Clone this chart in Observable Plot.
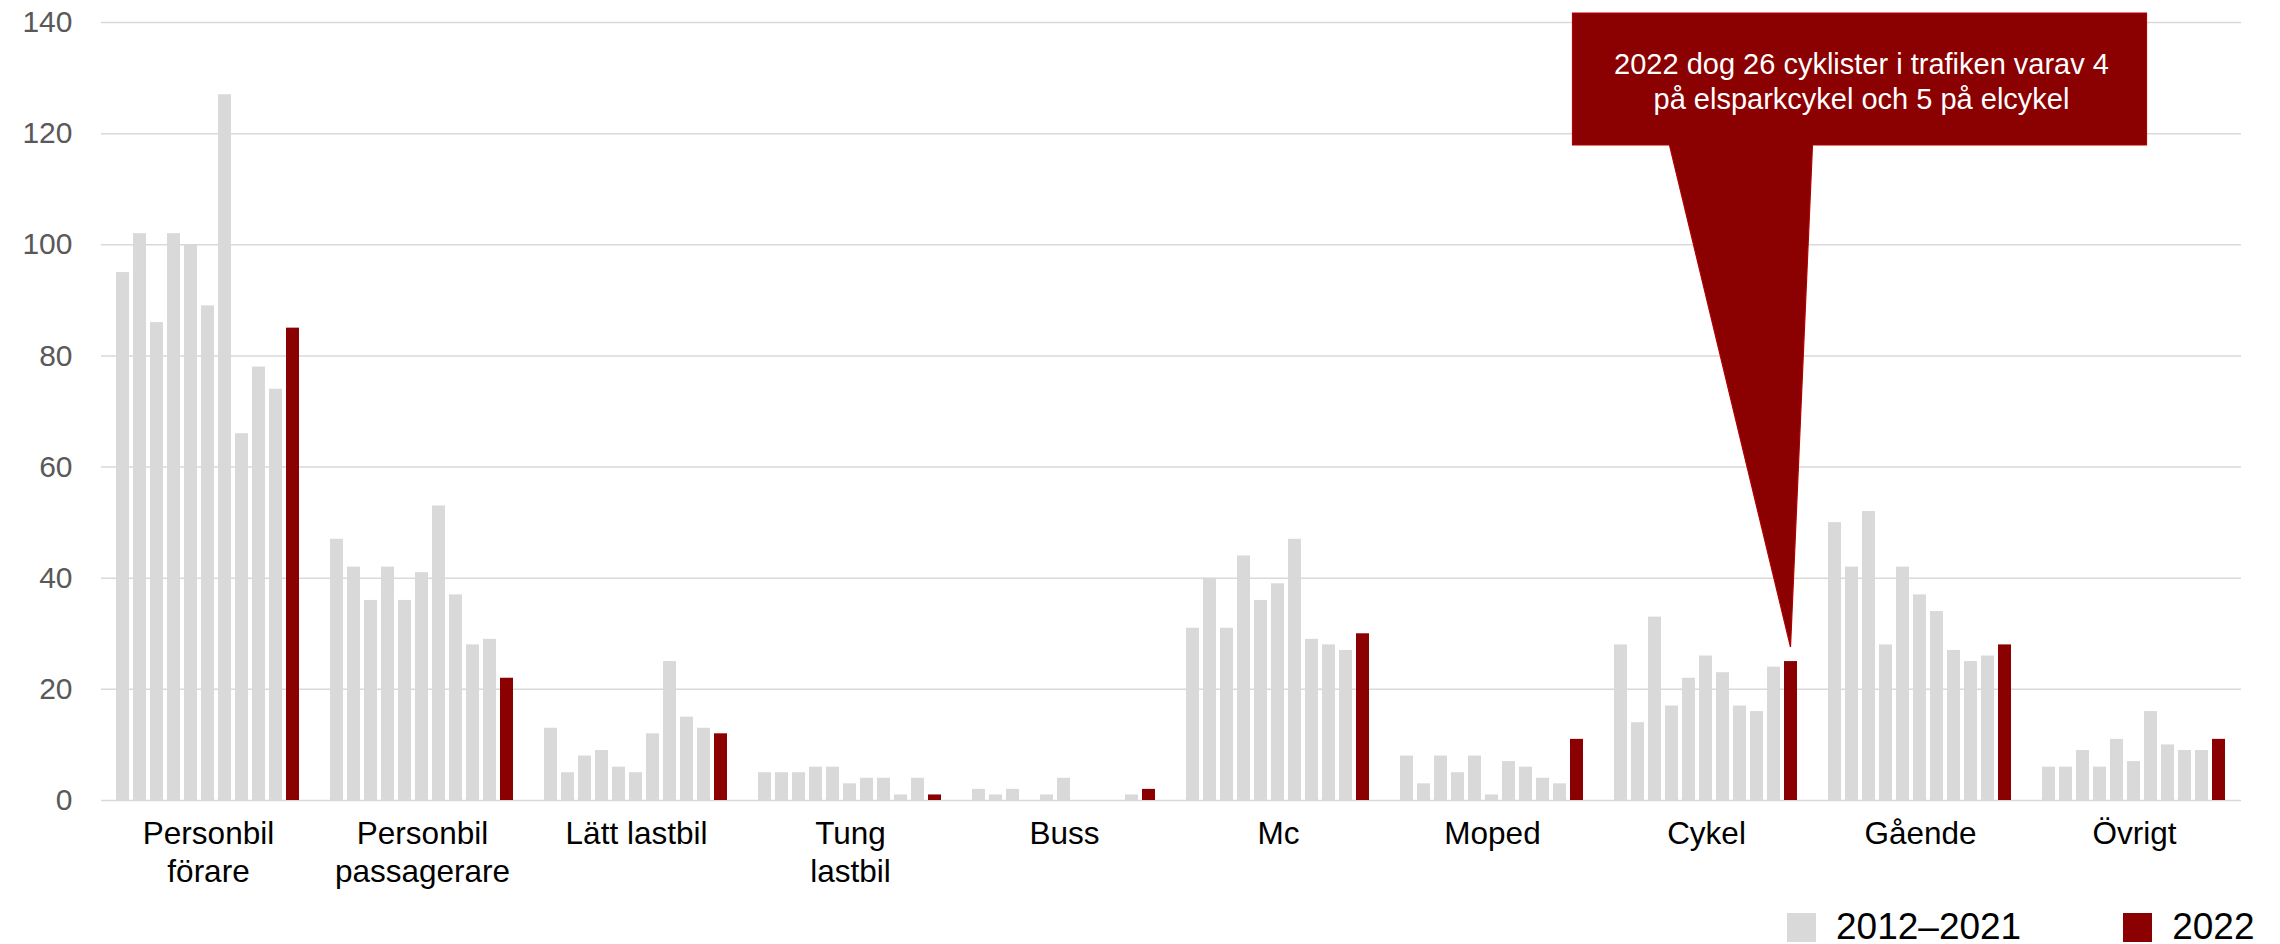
<!DOCTYPE html>
<html lang="sv">
<head>
<meta charset="utf-8">
<title>Omkomna per trafikantkategori 2012–2022</title>
<script src="https://cdn.jsdelivr.net/npm/d3@7"></script>
<script src="https://cdn.jsdelivr.net/npm/@observablehq/plot@0.6"></script>
<style>
  html, body { margin: 0; padding: 0; background: #fff; }
  body { width: 2280px; height: 944px; overflow: hidden; position: relative;
         font-family: "Liberation Sans", Arial, sans-serif; }
  #chart svg { display: block; }
  #legend { position: absolute; left: 1787px; top: 906px; }
  #legend .lg-swatches { margin: 0; }
  #legend .lg-swatch { margin-right: 102px; }
  #legend .lg-swatch:last-child { margin-right: 0; }
  #legend .lg-swatch > svg { margin-right: 20px; }
</style>
</head>
<body>
<div id="chart"></div>
<div id="legend"></div>
<script>
// Road-user categories (line breaks are kept for the axis labels)
const categories = [
  "Personbil\nförare", "Personbil\npassagerare", "Lätt lastbil", "Tung\nlastbil",
  "Buss", "Mc", "Moped", "Cykel", "Gående", "Övrigt"
];
const years = [2012, 2013, 2014, 2015, 2016, 2017, 2018, 2019, 2020, 2021, 2022];

// Number of killed per year, 2012–2022
const personbilForare      = [95, 102, 86, 102, 100, 89, 127, 66, 78, 74, 85];
const personbilPassagerare = [47, 42, 36, 42, 36, 41, 53, 37, 28, 29, 22];
const lattLastbil          = [13, 5, 8, 9, 6, 5, 12, 25, 15, 13, 12];
const tungLastbil          = [5, 5, 5, 6, 6, 3, 4, 4, 1, 4, 1];
const buss                 = [2, 1, 2, 0, 1, 4, 0, 0, 0, 1, 2];
const mc                   = [31, 40, 31, 44, 36, 39, 47, 29, 28, 27, 30];
const moped                = [8, 3, 8, 5, 8, 1, 7, 6, 4, 3, 11];
const cykel                = [28, 14, 33, 17, 22, 26, 23, 17, 16, 24, 25];
const gaende               = [50, 42, 52, 28, 42, 37, 34, 27, 25, 26, 28];
const ovrigt               = [6, 6, 9, 6, 11, 7, 16, 10, 9, 9, 11];

const periodLabels = ["2012–2021", "2022"];
const yTicks = [0, 20, 40, 60, 80, 100, 120, 140];
const noteLines = ["2022 dog 26 cyklister i trafiken varav 4", "på elsparkcykel och 5 på elcykel"];

const FONT = '"Liberation Sans", Arial, sans-serif';
const GREY = "#d9d9d9";
const RED = "#8b0000";

const series = [personbilForare, personbilPassagerare, lattLastbil, tungLastbil, buss,
                mc, moped, cykel, gaende, ovrigt];
const rows = categories.flatMap((category, i) =>
  years.map((year, j) => ({category, year, deaths: series[i][j]})));

const chart = Plot.plot({
  width: 2280,
  height: 900,
  marginLeft: 98,
  marginRight: 36,
  marginTop: 22,
  marginBottom: 100,
  style: {fontFamily: FONT, background: "#fff", overflow: "visible"},
  fx: {domain: categories, padding: 0, label: null},
  x: {domain: years, paddingInner: 0.22, paddingOuter: 0.9, axis: null},
  y: {domain: [0, 140], label: null},
  color: {domain: periodLabels, range: [GREY, RED]},
  marks: [
    Plot.gridY(yTicks, {stroke: GREY, strokeOpacity: 1, strokeWidth: 1.5}),
    Plot.axisY(yTicks, {tickSize: 0, tickPadding: 29, fontSize: 30, fill: "#595959", label: null}),
    Plot.axisFx({anchor: "bottom", tickSize: 0, tickPadding: 17, fontSize: 31.5,
                 lineHeight: 1.19, fill: "#000", label: null}),
    Plot.barY(rows, {
      fx: "category", x: "year", y: "deaths",
      fill: d => d.year === 2022 ? periodLabels[1] : periodLabels[0]
    })
  ]
});
document.getElementById("chart").append(chart);

// Callout pointing at the 2022 cycling bar
const note = {category: "Cykel", year: 2022, value: cykel[years.indexOf(2022)]};
const fxS = chart.scale("fx"), xS = chart.scale("x"), yS = chart.scale("y");
const tipX = fxS.apply(note.category) + (xS.apply(note.year) - xS.range[0]) + xS.bandwidth / 2;
const tipY = yS.apply(note.value) - 14;

const box = {left: tipX - 218, right: tipX + 356, top: 13, bottom: 145};
const base = {left: tipX - 121, right: tipX + 22};
const svg = d3.select(chart);
const callout = svg.append("g").attr("class", "callout");
callout.append("path")
  .attr("d", `M${box.left},${box.top}H${box.right}V${box.bottom}H${base.right}` +
             `L${tipX},${tipY}L${base.left},${box.bottom}H${box.left}Z`)
  .attr("fill", RED)
  .attr("stroke", "#b00000")
  .attr("stroke-width", 1.2)
  .attr("stroke-linejoin", "miter");
callout.append("text")
  .attr("text-anchor", "middle")
  .attr("fill", "#fff")
  .attr("font-family", FONT)
  .attr("font-size", 29)
  .selectAll("tspan")
  .data(noteLines)
  .join("tspan")
  .attr("x", (box.left + box.right) / 2 + 2)
  .attr("y", (d, i) => 73.5 + i * 35)
  .text(d => d);

// Legend below the chart
const legend = chart.legend("color", {
  className: "lg",
  swatchSize: 29,
  style: {fontSize: "37px", fontFamily: FONT, color: "#000"}
});
document.getElementById("legend").append(legend);
</script>
</body>
</html>
